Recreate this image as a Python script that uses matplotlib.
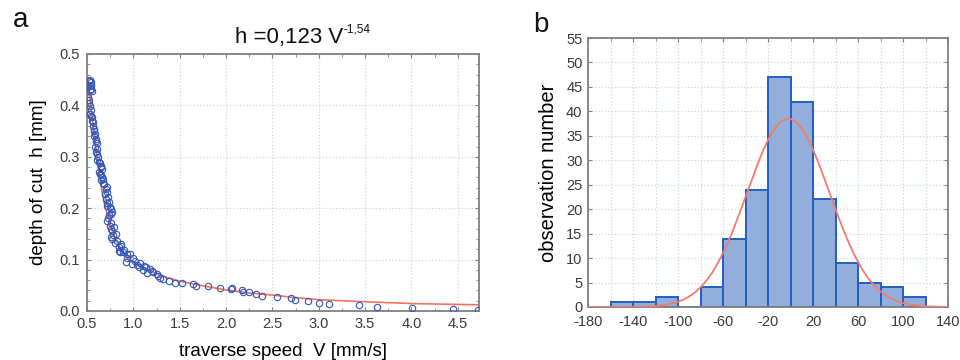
import numpy as np
import matplotlib
matplotlib.use("Agg")
from matplotlib import pyplot as plt
from matplotlib.ticker import MultipleLocator, FixedLocator, FormatStrFormatter

plt.rcParams['font.family'] = ['Liberation Sans', 'DejaVu Sans']
plt.rcParams['axes.unicode_minus'] = False

# panel a: measured points (traverse speed V [mm/s], depth of cut h [mm])
v_obs = [0.522, 0.533, 0.540, 0.547, 0.527, 0.540, 0.552, 0.532,
         0.511, 0.517, 0.522, 0.530, 0.540, 0.536, 0.548, 0.557, 0.552, 0.568,
         0.562, 0.575, 0.580, 0.586, 0.578, 0.593, 0.598, 0.604, 0.590, 0.611,
         0.593, 0.606, 0.619, 0.612, 0.629, 0.640, 0.647, 0.655, 0.665, 0.629,
         0.640, 0.647, 0.660, 0.676, 0.647, 0.668, 0.683, 0.719, 0.700, 0.712,
         0.690, 0.726, 0.705, 0.737, 0.720, 0.712, 0.745, 0.755, 0.773, 0.737,
         0.760, 0.719, 0.730, 0.755, 0.745, 0.791, 0.773, 0.760, 0.809, 0.785,
         0.755, 0.770, 0.827, 0.800, 0.863, 0.840, 0.870, 0.845, 0.860, 0.890,
         0.899, 0.930, 0.935, 0.960, 0.917, 0.989, 1.000, 1.020, 1.043, 1.070,
         1.060, 1.110, 1.140, 1.100, 1.180, 1.200, 1.210, 1.150, 1.250, 1.290,
         1.320, 1.270, 1.380, 1.450, 1.520, 1.640, 1.680, 1.810, 1.940, 2.050,
         2.060, 2.170, 2.180, 2.250, 2.320, 2.390, 2.550, 2.700, 2.740, 2.880,
         3.000, 3.110, 3.440, 3.630, 4.010, 4.450, 4.720]
h_obs = [0.447, 0.449, 0.446, 0.440, 0.438, 0.432, 0.428, 0.430,
         0.417, 0.410, 0.404, 0.398, 0.391, 0.384, 0.380, 0.378, 0.370, 0.368,
         0.360, 0.355, 0.350, 0.345, 0.340, 0.335, 0.330, 0.326, 0.320, 0.316,
         0.309, 0.305, 0.299, 0.293, 0.290, 0.287, 0.283, 0.280, 0.277, 0.270,
         0.267, 0.264, 0.260, 0.257, 0.254, 0.250, 0.247, 0.241, 0.238, 0.231,
         0.228, 0.221, 0.218, 0.212, 0.210, 0.205, 0.203, 0.199, 0.192, 0.186,
         0.188, 0.176, 0.180, 0.172, 0.166, 0.163, 0.156, 0.160, 0.150, 0.148,
         0.143, 0.140, 0.137, 0.133, 0.127, 0.125, 0.130, 0.117, 0.114, 0.114,
         0.119, 0.111, 0.104, 0.111, 0.095, 0.091, 0.104, 0.098, 0.090, 0.094,
         0.085, 0.088, 0.085, 0.080, 0.081, 0.078, 0.075, 0.073, 0.072, 0.065,
         0.062, 0.068, 0.059, 0.055, 0.055, 0.052, 0.049, 0.048, 0.044, 0.042,
         0.044, 0.040, 0.036, 0.037, 0.033, 0.029, 0.028, 0.026, 0.021, 0.020,
         0.016, 0.013, 0.012, 0.0085, 0.0065, 0.0046, 0.0014]

# panel a: fitted curve as drawn
fit_v = [0.505, 0.52, 0.54, 0.56, 0.58, 0.605, 0.63, 0.66, 0.70, 0.74, 0.78, 0.84,
         0.93, 1.0, 1.1, 1.2, 1.35, 1.5, 1.75, 2.0, 2.25, 2.5, 2.75, 3.0, 3.5,
         4.0, 4.5, 4.73]
fit_h = [0.46, 0.43, 0.40, 0.37, 0.34, 0.30, 0.27, 0.235, 0.20, 0.175, 0.152, 0.128,
         0.104, 0.095, 0.085, 0.077, 0.066, 0.058, 0.049, 0.041, 0.035, 0.031, 0.026,
         0.022, 0.018, 0.0145, 0.0128, 0.012]

# panel b: histogram of deviations
bin_left = [-160, -140, -120, -100, -80, -60, -40, -20, 0, 20, 40, 60, 80, 100]
counts = [1, 1, 2, 0, 4, 14, 24, 47, 42, 22, 9, 5, 4, 2]
bin_width = 20
hist_ticks = [-180, -140, -100, -60, -20, 20, 60, 100, 140]
norm_mean = -2.0
norm_sd = 36.7

tick_col = '#3a3a3a'
spine_col = '#808080'
grid_col = '#c9d9e8'

fig = plt.figure(figsize=(9.6, 3.6), dpi=100)

# ---- panel a
ax1 = fig.add_axes([87/960, 1-311/360, (479-87)/960, (311-54)/360])
ax1.plot(fit_v, fit_h, color='#f0735f', lw=1.2, zorder=2)
ax1.plot(v_obs, h_obs, 'o', mfc='none', mec='#3557b7', ms=4.6, mew=0.8, zorder=3)
ax1.set_xlim(0.5, 4.73)
ax1.set_ylim(0, 0.5)
ax1.xaxis.set_major_locator(MultipleLocator(0.5))
ax1.xaxis.set_minor_locator(MultipleLocator(0.25))
ax1.yaxis.set_major_locator(MultipleLocator(0.1))
ax1.yaxis.set_minor_locator(MultipleLocator(0.02))
ax1.xaxis.set_major_formatter(FormatStrFormatter('%.1f'))
ax1.yaxis.set_major_formatter(FormatStrFormatter('%.1f'))

# ---- panel b
ax2 = fig.add_axes([588/960, 1-307/360, (948-588)/960, (307-38)/360])
ax2.bar(bin_left, counts, width=bin_width, align='edge', color='#94aedb',
        edgecolor='#1f5fc0', linewidth=1.4, zorder=2)
xs = np.linspace(-180, 140, 400)
n_total = sum(counts)
ys = n_total * bin_width / (norm_sd * np.sqrt(2 * np.pi)) * np.exp(-0.5 * ((xs - norm_mean) / norm_sd) ** 2)
ax2.plot(xs, ys, color='#f47a6e', lw=1.3, zorder=3)
ax2.set_xlim(-180, 140)
ax2.set_ylim(0, 55)
ax2.xaxis.set_major_locator(FixedLocator(hist_ticks))
ax2.xaxis.set_minor_locator(MultipleLocator(20))
ax2.yaxis.set_major_locator(MultipleLocator(5))

for ax in (ax1, ax2):
    ax.set_axisbelow(True)
    ax.grid(True, which='major', color=grid_col, ls=':', lw=0.9)
    for s in ax.spines.values():
        s.set_color(spine_col)
        s.set_linewidth(1.3)
    ax.tick_params(which='both', direction='in', top=True, right=True,
                   colors=spine_col, labelcolor=tick_col, labelsize=10.5)
    ax.tick_params(which='major', length=3, pad=4)
    ax.tick_params(which='minor', length=2)
ax2.grid(True, which='minor', axis='x', color=grid_col, ls=':', lw=0.9)
ax1.tick_params(axis='x', which='major', pad=4)
ax1.tick_params(axis='y', which='major', pad=5)
ax2.tick_params(axis='x', which='major', pad=6)

ax1.set_xlabel('traverse speed  V [mm/s]', fontsize=13.5, labelpad=9)
ax1.set_ylabel('depth of cut  h [mm]', fontsize=13.5, labelpad=9)
ax2.set_ylabel('observation number', fontsize=14.5, labelpad=6)

# title and panel letters
fig.text(235/960, 1-43/360, 'h =0,123 V', fontsize=16, color='#111111',
         ha='left', va='baseline')
fig.text(344/960, 1-32/360, '-1,54', fontsize=8.5, color='#111111',
         ha='left', va='baseline')
fig.text(13/960, 1-27/360, 'a', fontsize=20, color='#111111', ha='left', va='baseline')
fig.text(533/960, 1-32/360, 'b', fontsize=20, color='#111111', ha='left', va='baseline')

fig.savefig('out.png', dpi=100)
